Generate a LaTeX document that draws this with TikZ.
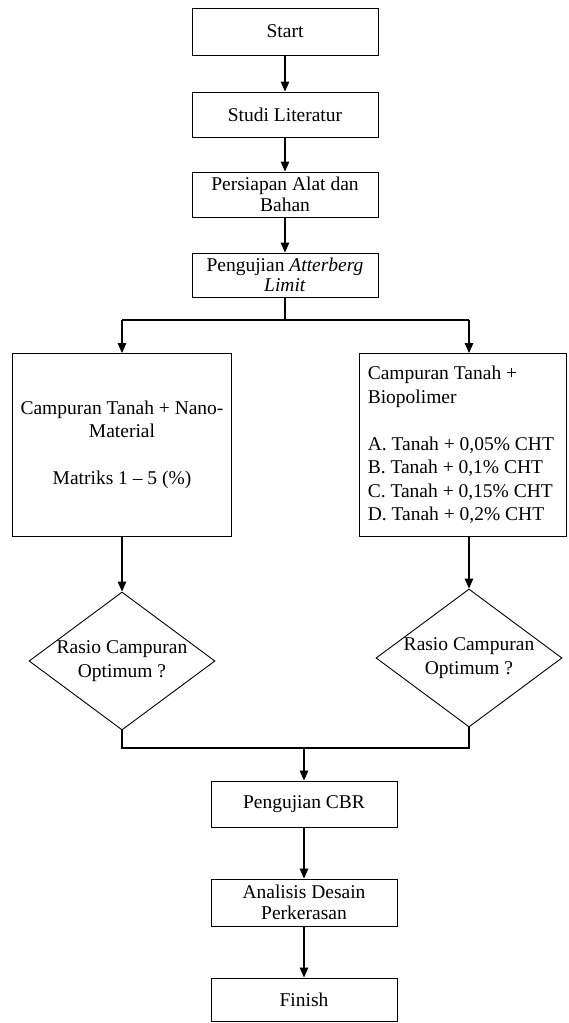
\documentclass[tikz,border=0pt]{standalone}
\usepackage{fontspec}
\setmainfont{Liberation Serif}
\usetikzlibrary{shapes.geometric,arrows.meta}
\begin{document}
\begin{tikzpicture}[x=1pt,y=-1pt,
  txt/.style={font=\fontsize{19.5}{23.5}\selectfont},
  tight/.style={font=\fontsize{19.5}{20.5}\selectfont},
  box/.style={draw,line width=0.9pt,inner sep=0pt,align=center},
  dia/.style={draw,diamond,line width=0.9pt,inner sep=0pt,minimum width=186pt,minimum height=138pt},
  conn/.style={line width=1.3pt},
  arr/.style={line width=1.3pt,-{Triangle[length=10pt,width=8.5pt]}}]
\useasboundingbox (0,0) rectangle (568,1023);
% top column
\node[box,txt,minimum width=186pt,minimum height=47pt] (start) at (285,31.5) {Start};
\node[box,txt,minimum width=186pt,minimum height=45pt] (studi) at (285,114.5) {Studi Literatur};
\node[box,tight,minimum width=186pt,minimum height=45pt] (alat) at (285,194.5) {Persiapan Alat dan\\Bahan};
\node[box,tight,minimum width=186pt,minimum height=44pt] (atter) at (285,275) {Pengujian \textit{Atterberg}\\\textit{Limit}};
% branches
\node[box,txt,minimum width=219pt,minimum height=183pt] (nano) at (122,445) {Campuran Tanah + Nano-\\Material\\[23.5pt]Matriks 1 – 5 (\%)};
\node[box,minimum width=207.5pt,minimum height=183pt] (bio) at (462.75,445) {};
\node[txt,align=left,inner sep=0pt,anchor=west] (biotxt) at ([xshift=9pt]bio.west) {Campuran Tanah +\\Biopolimer\\[23.5pt]A. Tanah + 0,05\% CHT\\B. Tanah + 0,1\% CHT\\C. Tanah + 0,15\% CHT\\D. Tanah + 0,2\% CHT};
\node[dia] (ldia) at (122,661) {};
\node[txt,align=center,inner sep=0pt] (ltxt) at (ldia.center) {Rasio Campuran\\Optimum ?};
\node[dia] (rdia) at (469,658) {};
\node[txt,align=center,inner sep=0pt] (rtxt) at (rdia.center) {Rasio Campuran\\Optimum ?};
% bottom column
\node[box,txt,minimum width=186pt,minimum height=46pt] (cbr) at (304,804) {Pengujian CBR};
\node[box,tight,minimum width=186pt,minimum height=47pt] (anal) at (304,902.5) {Analisis Desain\\Perkerasan};
\node[box,txt,minimum width=186pt,minimum height=43.5pt] (fin) at (304,999.75) {Finish};
% coordinates
\coordinate (split) at (285,320);
\coordinate (sl) at (122,320);
\coordinate (sr) at (469,320);
\coordinate (ml) at (122,748);
\coordinate (mr) at (469,748);
\coordinate (mm) at (304,748);
% connectors
\draw[arr] (start) -- (studi);
\draw[arr] (studi) -- (alat);
\draw[arr] (alat) -- (atter);
\draw[conn] (atter.south) -- (split);
\draw[conn] (sl) -- (sr);
\draw[arr] (sl) -- (sl |- nano.north);
\draw[arr] (sr) -- (sr |- bio.north);
\draw[arr] (nano.south) -- (ldia.north);
\draw[arr] (rdia.north |- bio.south) -- (rdia.north);
\draw[conn] (ldia.south) -- (ml) -- (mr) -- (rdia.south);
\draw[arr] (mm) -- (cbr.north);
\draw[arr] (cbr) -- (anal);
\draw[arr] (anal) -- (fin);
\end{tikzpicture}
\end{document}
